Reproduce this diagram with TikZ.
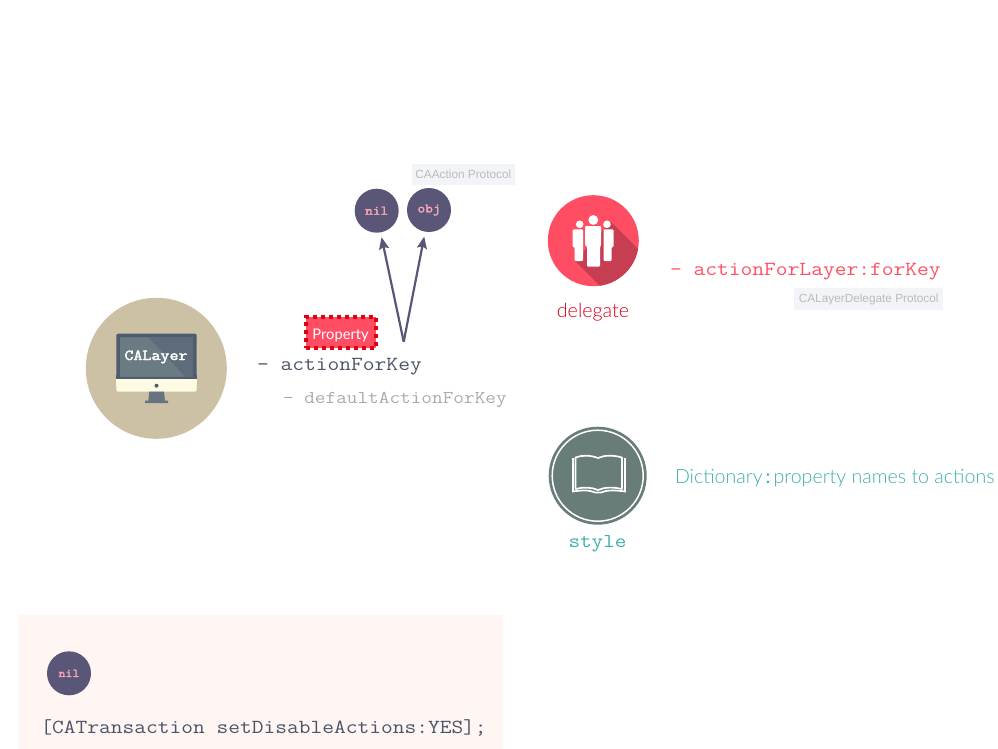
\documentclass[tikz,border=0pt]{standalone}
\usepackage{fontspec}
\setmainfont{Lato Light}[BoldFont=Lato]
\newfontfamily\latoreg{Lato}
\newfontfamily\cour[FakeStretch=1.143]{Latin Modern Mono}
\newfontfamily\courb[FakeStretch=1.143,FakeBold=2.5]{Latin Modern Mono}
\newfontfamily\helv{Liberation Sans}
\newcommand{\fs}[1]{\fontsize{#1}{#1}\selectfont}
\definecolor{ink}{HTML}{5A5678}
\definecolor{pinktxt}{HTML}{F9A5B5}
\definecolor{tan}{HTML}{CDC1A5}
\definecolor{monframe}{HTML}{4F5B6E}
\definecolor{monscreen}{HTML}{5D6B7B}
\definecolor{monlight}{HTML}{6B7B83}
\definecolor{monbase}{HTML}{FDFBE4}
\definecolor{monstand}{HTML}{667380}
\definecolor{redc}{HTML}{FF4E63}
\definecolor{redd}{HTML}{C73D52}
\definecolor{deltxt}{HTML}{D8001A}
\definecolor{propdash}{HTML}{E0000F}
\definecolor{slatec}{HTML}{687C7A}
\definecolor{teal}{HTML}{3FAFAB}
\definecolor{protobg}{HTML}{F2F4F7}
\definecolor{prototxt}{HTML}{B9BDBE}
\definecolor{codedark}{HTML}{4A5568}
\definecolor{codegrey}{HTML}{A6ABAB}
\definecolor{blush}{HTML}{FFF5F3}
\tikzset{
  x=1pt,y=-1pt,
  circ/.style={circle,fill=ink,minimum size=44pt,inner sep=0pt,outer sep=0pt,text=pinktxt,font=\courb\fs{13}},
  proto/.style={fill=protobg,text=prototxt,inner sep=0pt,font=\helv\fs{11.8}},
  txt/.style={anchor=base west,inner sep=0pt,outer sep=0pt},
  link/.style={draw=ink,line width=2.2pt,-{Stealth[length=12pt,width=10pt,inset=2pt]},shorten >=5pt},
  ico/.style={circle,inner sep=0pt,outer sep=0pt}
}
\usetikzlibrary{arrows.meta}
\begin{document}
\begin{tikzpicture}
\useasboundingbox (0,0) rectangle (998,749);
% bottom panel
\node[fill=blush,inner sep=0pt,minimum width=484pt,minimum height=134pt,anchor=north west] (panel) at (19,615) {};
% CALayer icon
\node[ico,fill=tan,minimum size=141pt] (layer) at (156.3,368.3) {};
\fill[monbase,rounded corners=2pt] (116.3,376) rectangle (196.7,391.7);
\fill[monframe,rounded corners=2pt] (116.3,333.7) rectangle (196.7,385);
\fill[monframe] (116.3,375) rectangle (196.7,379.3);
\fill[monbase] (116.3,379.3) rectangle (196.7,386);
\fill[monscreen] (120,337.3) rectangle (193.3,376.7);
\fill[monlight] (120,337.3) -- (148,337.3) -- (185,376.7) -- (120,376.7) -- cycle;
\fill[monframe] (156.5,385.7) circle (2);
\fill[monstand] (149.3,391.7) -- (164,391.7) -- (165,400.7) -- (168,400.7) -- (168,403) -- (145,403) -- (145,400.7) -- (148.3,400.7) -- cycle;
\node[text=white,font=\courb\fs{15.3}] (calayer) at (156,357) {CALayer};
% centre circles
\node[circ] (nilc) at (376.7,210.7) {nil};
\node[circ] (objc) at (429,210) {obj};
\node[proto,minimum width=103.7pt,minimum height=21.7pt,anchor=north west] (caaction) at (411.3,163.3) {CAAction Protocol};
\coordinate (fork) at (403.7,341.7);
\draw[link] (fork) -- (nilc.-80);
\draw[link] (fork) -- (objc.-100);
% property
\node[fill=redc,draw=propdash,line width=4pt,dash pattern=on 4pt off 4pt,minimum width=70pt,minimum height=31pt,inner sep=0pt,text=white,font=\latoreg\fs{14.7}] (prop) at (340.6,332.2) {\raisebox{-2pt}[\height][0pt]{Property}};
\node[txt,text=codedark,font=\cour\fs{20}] (afk) at (257,370) {- actionForKey};
\node[txt,text=codegrey,font=\cour\fs{18.1}] (dafk) at (283,403) {- defaultActionForKey};
% delegate icon
\node[ico,fill=redc,minimum size=91pt] (deleg) at (593.3,240.7) {};
\begin{scope}
\clip (593.3,240.7) circle (45.5);
\fill[redd] (611,222) -- (660,271) -- (625,311) -- (575,261) -- cycle;
\end{scope}
\fill[white] (593.3,220) circle (4.9) (579.7,224.3) circle (3.8) (607,224.3) circle (3.8);
\fill[white,rounded corners=1pt] (572.7,229.3) -- (583,229.3) -- (583,261) -- (574.5,261) -- (574.5,247) -- (572.7,247) -- cycle;
\fill[white,rounded corners=1pt] (603.5,229.3) -- (613.5,229.3) -- (613.5,247) -- (611.5,247) -- (611.5,261) -- (603.5,261) -- cycle;
\fill[white,rounded corners=1pt] (585,226) -- (601,226) -- (601,246) -- (600,246) -- (600,266.7) -- (587,266.7) -- (587,246) -- (585,246) -- cycle;
\node[text=deltxt,font=\fs{19.7},anchor=base] (delegt) at (593,317) {delegate};
\node[txt,text=redc,font=\cour\fs{20}] (afl) at (670,275) {- actionForLayer:forKey};
\node[proto,minimum width=149pt,minimum height=22.3pt,anchor=north west] (cald) at (794,287.7) {CALayerDelegate Protocol};
% style icon
\node[ico,fill=slatec,minimum size=98pt] (stylei) at (597.7,475.7) {};
\draw[white,line width=1.5pt] (stylei.center) circle (45.5);
\draw[white,line width=1.7pt,line join=round] (598,458) .. controls (590,455) and (582,455) .. (575.5,457.5) -- (575.5,489) .. controls (583,487) and (591,487) .. (598,490) .. controls (605,487) and (613,487) .. (622,489) -- (622,457.5) .. controls (613,455) and (605,455) .. (598,458) -- cycle;
\draw[white,line width=1.7pt] (573,458) -- (573,491.5) .. controls (582,490) and (590,490) .. (595,492.5) -- (601,492.5) .. controls (606,490) and (615,490) .. (625,491.5) -- (625,458);
\node[text=teal,font=\cour\fs{19.7},anchor=base] (stylet) at (597.5,547) {style};
\node[txt,text=teal,font=\fs{19.6}] (dict) at (675,483) {Dictionary\hspace{3pt}\textbf{:}\hspace{3pt}property names to actions};
% bottom
\node[circ,minimum size=44pt,font=\courb\fs{11.8}] (nilb) at (69,673.3) {nil};
\node[txt,text=codedark,font=\cour\fs{19.95}] (cat) at (40.5,733) {[CATransaction setDisableActions:YES];};
\end{tikzpicture}
\end{document}
